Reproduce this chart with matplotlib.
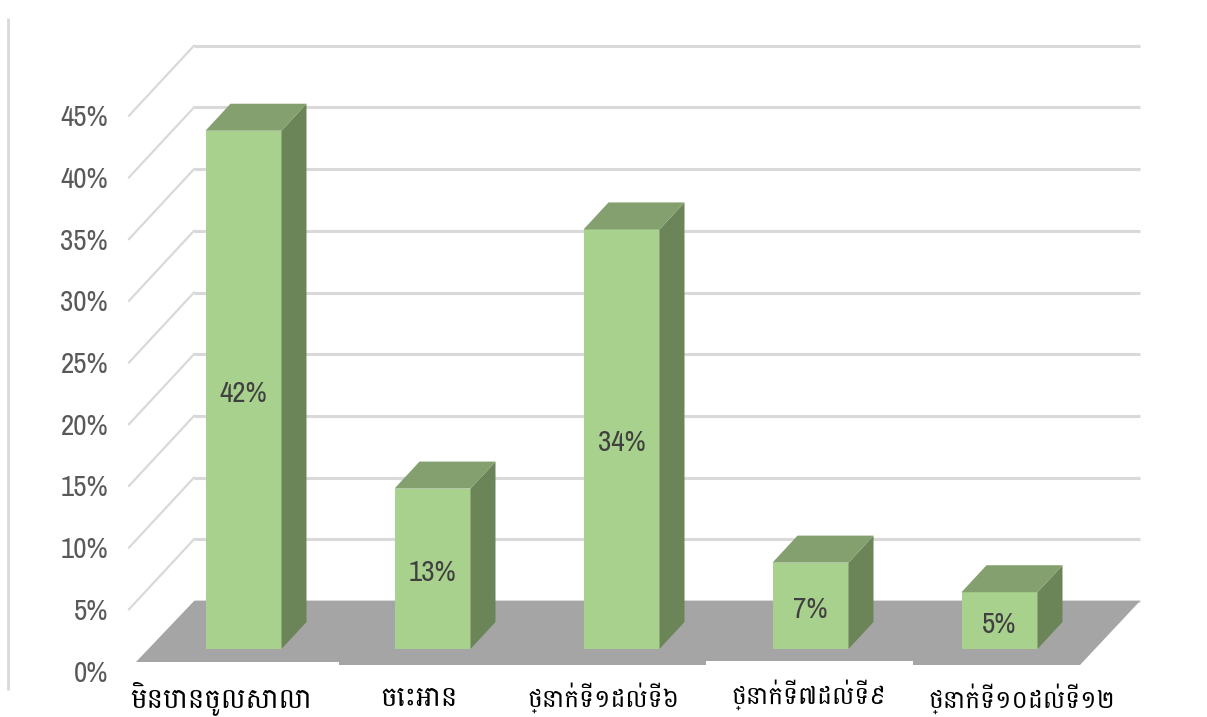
import matplotlib
matplotlib.use("Agg")
import matplotlib.pyplot as plt
from matplotlib.patches import Polygon

categories = ["មិនបានចូលសាលា", "ចេះអាន", "ថ្នាក់ទី១ដល់ទី៦", "ថ្នាក់ទី៧ដល់ទី៩", "ថ្នាក់ទី១០ដល់ទី១២"]
values = [42, 13, 34, 7, 4.6]
value_labels = ["42%", "13%", "34%", "7%", "5%"]
ticks = [0, 5, 10, 15, 20, 25, 30, 35, 40, 45]

W, H = 1207, 717
fig = plt.figure(figsize=(W / 100, H / 100), dpi=100)
ax = fig.add_axes([0, 0, 1, 1])
ax.axis("off")
PX = 189.0
PY = 12.34
ax.set_xlim(-243.5 / PX, (W - 243.5) / PX)
ax.set_ylim((649 - H) / PY, 649 / PY)

def X(p): return (p - 243.5) / PX
def Y(p): return (649 - p) / PY

NARROW = ["Liberation Sans Narrow", "Archivo Narrow", "Liberation Sans"]
KHMER = ["Battambang", "Khmer", "DejaVu Sans"]

# back wall grid and side lines
for t in ticks:
    yb = Y(601) + t
    yf = Y(671) + t
    ax.plot([X(194), X(1140)], [yb, yb], color="#d9d9d9", lw=2.2, solid_capstyle="butt", zorder=1)
    if t > 0:
        ax.plot([X(129), X(194)], [yf, yb], color="#d9d9d9", lw=1.6, zorder=1)
    ax.text(X(108), Y(673) + t, f"{t}%", ha="right", va="center", fontsize=21,
            color="#595959", family=NARROW, zorder=5)

# floor
floor = [(136, 662), (194, 601), (1140, 601), (1080, 665), (913, 665), (913, 661), (706, 661), (706, 665), (339, 665), (339, 662)]
ax.add_patch(Polygon([(X(a), Y(b)) for a, b in floor], closed=True, fc="#a5a5a5", ec="none", zorder=2))

# left rule
ax.plot([X(8), X(8)], [Y(18), Y(690)], color="#d9d9d9", lw=2, solid_capstyle="butt", zorder=1)

# bars
bw, dx, dy = 76 / PX, 25 / PX, 27 / PY
cat_dx = [-22, -14, -18, -2, 22]
cat_py = [698, 699, 698, 695, 699]
cat_fs = [20, 20, 18, 18, 18]
for i, (v, lab, cat) in enumerate(zip(values, value_labels, categories)):
    l, r = i - bw / 2, i + bw / 2
    ax.add_patch(Polygon([(l, 0), (r, 0), (r, v), (l, v)], fc="#a9d18e", ec="none", zorder=3))
    ax.add_patch(Polygon([(r, 0), (r + dx, dy), (r + dx, v + dy), (r, v)], fc="#6b8559", ec="none", zorder=3))
    ax.add_patch(Polygon([(l, v), (r, v), (r + dx, v + dy), (l + dx, v + dy)], fc="#83a06e", ec="none", zorder=3))
    ax.text(i, v / 2 - 0.3, lab, ha="center", va="center", fontsize=21, color="#404040",
            family=NARROW, zorder=4)
    ax.text(i + cat_dx[i] / PX, Y(cat_py[i]), cat, ha="center", va="center", fontsize=cat_fs[i], color="black",
            family=KHMER, zorder=5)

fig.savefig("out.png", dpi=100, facecolor="white")
